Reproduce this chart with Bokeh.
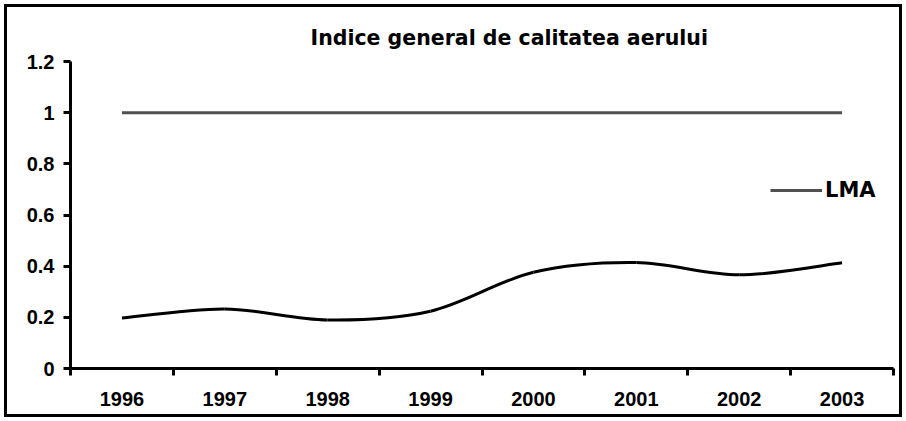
from bokeh.plotting import figure
from bokeh.models import Range1d, FixedTicker, Legend, LegendItem, ColumnDataSource
from bokeh.embed import file_html
from bokeh.resources import INLINE

# ---- data ----
years = ["1996", "1997", "1998", "1999", "2000", "2001", "2002", "2003"]
indice = [0.197, 0.233, 0.19, 0.224, 0.376, 0.414, 0.366, 0.413]
lma = [1, 1, 1, 1, 1, 1, 1, 1]
y_ticks = [0, 0.2, 0.4, 0.6, 0.8, 1, 1.2]
y_labels = ["0", "0.2", "0.4", "0.6", "0.8", "1", "1.2"]
title_text = "Indice general de calitatea aerului"
lma_name = "LMA"

FONT = "Liberation Sans"
FONT2 = "DejaVu Sans"

n = len(years)
xs = [i + 0.5 for i in range(n)]

W, H = 906, 421
p = figure(width=W, height=H, output_backend="svg", toolbar_location=None,
           x_range=Range1d(0, n), y_range=Range1d(0, 1.2),
           min_border_left=70, min_border_right=13, min_border_top=61, min_border_bottom=53,
           title=title_text)
# outer border of the chart: inset shadow behind a transparent border area
p.styles = {"box-shadow": "inset 0 0 0 4px white, inset 0 0 0 7px black",
            "background-color": "white"}
p.outline_line_color = None
p.xgrid.grid_line_color = None
p.ygrid.grid_line_color = None
p.background_fill_color = "white"
p.border_fill_alpha = 0

p.title.text_font = FONT2
p.title.text_font_size = "20.5px"
p.title.text_font_style = "bold"
p.title.text_color = "black"
p.title.align = "left"
p.title.offset = 240
p.title.standoff = 24

# LMA line
src_lma = ColumnDataSource(dict(x=xs, y=lma))
r_lma = p.line("x", "y", source=src_lma, line_color="#505050", line_width=3)

# smoothed index line: Catmull-Rom -> cubic Bezier segments from the data points
pts = list(zip(xs, indice))
x0s, y0s, x1s, y1s, cx0s, cy0s, cx1s, cy1s = [], [], [], [], [], [], [], []
for i in range(n - 1):
    p0 = pts[i - 1] if i > 0 else pts[i]
    p1 = pts[i]
    p2 = pts[i + 1]
    p3 = pts[i + 2] if i + 2 < n else pts[i + 1]
    x0s.append(p1[0]); y0s.append(p1[1])
    x1s.append(p2[0]); y1s.append(p2[1])
    cx0s.append(p1[0] + (p2[0] - p0[0]) / 6); cy0s.append(p1[1] + (p2[1] - p0[1]) / 6)
    cx1s.append(p2[0] - (p3[0] - p1[0]) / 6); cy1s.append(p2[1] - (p3[1] - p1[1]) / 6)
src_b = ColumnDataSource(dict(x0=x0s, y0=y0s, x1=x1s, y1=y1s,
                              cx0=cx0s, cy0=cy0s, cx1=cx1s, cy1=cy1s))
p.bezier("x0", "y0", "x1", "y1", "cx0", "cy0", "cx1", "cy1", source=src_b,
         line_color="black", line_width=3)

# x axis: labels at category centres, tick marks between categories
xa = p.xaxis[0]
xa.ticker = FixedTicker(ticks=xs, minor_ticks=list(range(n + 1)))
xa.major_label_overrides = {x: y for x, y in zip(xs, years)}
xa.major_tick_line_color = None
xa.major_tick_out = 0
xa.major_tick_in = 0
xa.minor_tick_line_color = "black"
xa.minor_tick_line_width = 3
xa.minor_tick_out = 7
xa.minor_tick_in = 0
xa.axis_line_width = 3
xa.axis_line_color = "black"
xa.major_label_text_font = FONT
xa.major_label_text_font_size = "20px"
xa.major_label_text_font_style = "bold"
xa.major_label_text_color = "black"
xa.major_label_standoff = 16

ya = p.yaxis[0]
ya.ticker = FixedTicker(ticks=y_ticks)
ya.major_label_overrides = {t: l for t, l in zip(y_ticks, y_labels)}
ya.major_tick_line_width = 3
ya.major_tick_line_color = "black"
ya.major_tick_out = 7
ya.major_tick_in = 0
ya.minor_tick_line_color = None
ya.axis_line_width = 3
ya.axis_line_color = "black"
ya.major_label_text_font = FONT
ya.major_label_text_font_size = "20px"
ya.major_label_text_font_style = "bold"
ya.major_label_text_color = "black"
ya.major_label_standoff = 9

legend = Legend(items=[LegendItem(label=lma_name, renderers=[r_lma])],
                location=(700, 166), border_line_color=None, background_fill_alpha=0,
                padding=0, margin=0, glyph_width=52, label_standoff=3,
                label_text_font=FONT2, label_text_font_size="21px",
                label_text_font_style="bold", label_text_color="black")
p.add_layout(legend)

open("out.html", "w").write(file_html(p, INLINE))
